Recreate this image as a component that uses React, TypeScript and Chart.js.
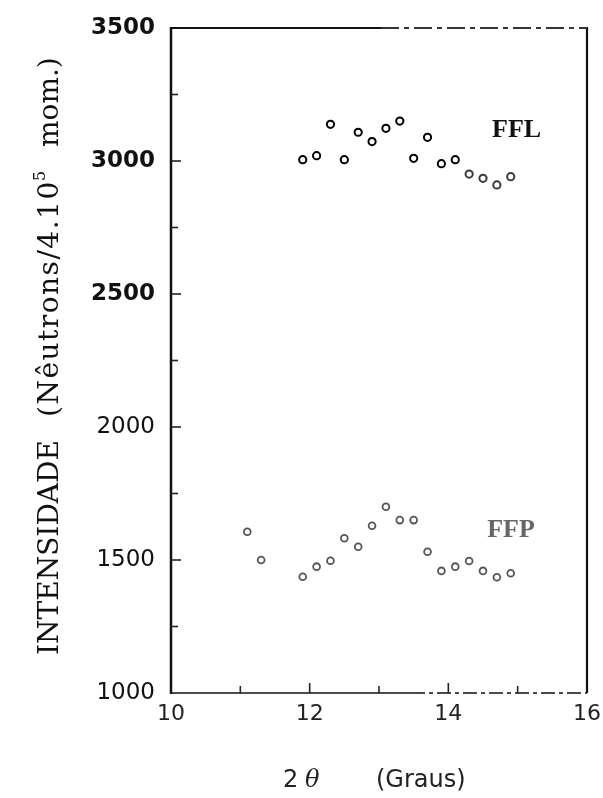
import { useEffect, useRef } from "react";
import { Chart, registerables } from "chart.js";

Chart.register(...registerables);

// 2θ positions (degrees) and counts for the FFL phase
const fflAngles = [11.9, 12.1, 12.3, 12.5, 12.7, 12.9, 13.1, 13.3, 13.5, 13.7, 13.9, 14.1, 14.3, 14.5, 14.7, 14.9];
const fflCounts = [3005, 3020, 3138, 3005, 3108, 3073, 3123, 3150, 3010, 3089, 2990, 3005, 2951, 2935, 2910, 2941];

// 2θ positions (degrees) and counts for the FFP phase
const ffpAngles = [11.1, 11.3, 11.9, 12.1, 12.3, 12.5, 12.7, 12.9, 13.1, 13.3, 13.5, 13.7, 13.9, 14.1, 14.3, 14.5, 14.7, 14.9];
const ffpCounts = [1606, 1500, 1437, 1475, 1497, 1582, 1550, 1629, 1700, 1650, 1650, 1531, 1459, 1475, 1496, 1459, 1435, 1450];

// Axis ranges and tick marks
const xRange = [10, 16];
const yRange = [1000, 3500];
const xTickStep = 2;
const yTickStep = 500;
const xTickMarks = [11, 12, 13, 14, 15];
const yTickMarks = [1250, 1500, 1750, 2000, 2250, 2500, 2750, 3000, 3250];

// Series names and where their labels sit (data coordinates)
const seriesNames = ["FFL", "FFP"];
const seriesLabelAngles = [14.63, 14.56];
const seriesLabelCounts = [3090, 1586];

const xTitleParts = ["2", "θ", "(Graus)"];
const yTitleParts = ["INTENSIDADE", "(Nêutrons/4.10", "5", "mom.)"];

const toPoints = (xs: number[], ys: number[]) => xs.map((x, i) => ({ x, y: ys[i] }));

const framePlugin = {
  id: "frameAndTitles",
  afterDraw(chart: any) {
    const { ctx, chartArea, scales } = chart;
    const { left, right, top, bottom } = chartArea;
    const xs = scales.x;
    const ys = scales.y;
    ctx.save();
    ctx.strokeStyle = "#111";
    ctx.lineCap = "butt";

    // left axis
    ctx.lineWidth = 2.5;
    ctx.beginPath();
    ctx.moveTo(left, top - 1);
    ctx.lineTo(left, bottom + 1);
    ctx.stroke();

    // right axis
    ctx.lineWidth = 2.2;
    ctx.beginPath();
    ctx.moveTo(right, top - 1);
    ctx.lineTo(right, bottom);
    ctx.stroke();

    // top border: solid near the corner, broken further right
    ctx.lineWidth = 2;
    ctx.beginPath();
    ctx.moveTo(left, top);
    ctx.lineTo(left + 210, top);
    ctx.stroke();
    ctx.strokeStyle = "#333";
    ctx.setLineDash([18, 5, 5, 5]);
    ctx.beginPath();
    ctx.moveTo(left + 210, top);
    ctx.lineTo(right, top);
    ctx.stroke();
    ctx.setLineDash([]);

    // bottom axis
    ctx.strokeStyle = "#111";
    ctx.lineWidth = 1.6;
    ctx.beginPath();
    ctx.moveTo(left, bottom);
    ctx.lineTo(left + 240, bottom);
    ctx.stroke();
    ctx.setLineDash([14, 4, 4, 4]);
    ctx.beginPath();
    ctx.moveTo(left + 240, bottom);
    ctx.lineTo(right, bottom);
    ctx.stroke();
    ctx.setLineDash([]);

    // inward tick marks
    ctx.lineWidth = 1.6;
    ctx.strokeStyle = "#222";
    xTickMarks.forEach((v) => {
      const px = xs.getPixelForValue(v);
      const len = v % xTickStep === 0 ? 10 : 7;
      ctx.beginPath();
      ctx.moveTo(px, bottom);
      ctx.lineTo(px, bottom - len);
      ctx.stroke();
    });
    yTickMarks.forEach((v) => {
      const py = ys.getPixelForValue(v);
      const len = v % yTickStep === 0 ? 10 : 7;
      ctx.beginPath();
      ctx.moveTo(left, py);
      ctx.lineTo(left + len, py);
      ctx.stroke();
    });

    // series labels
    ctx.textBaseline = "alphabetic";
    ctx.textAlign = "left";
    ctx.font = "bold 26px 'Liberation Serif'";
    seriesNames.forEach((name, i) => {
      ctx.fillStyle = i === 0 ? "#111" : "#666";
      ctx.fillText(name, xs.getPixelForValue(seriesLabelAngles[i]), ys.getPixelForValue(seriesLabelCounts[i]));
    });

    // x-axis title
    ctx.fillStyle = "#222";
    ctx.textBaseline = "middle";
    ctx.font = "24px 'DejaVu Sans'";
    ctx.fillText(xTitleParts[0], 283, 781);
    ctx.font = "italic 24px 'DejaVu Serif'";
    ctx.fillText(xTitleParts[1], 305, 781);
    ctx.font = "24px 'DejaVu Sans'";
    ctx.fillText(xTitleParts[2], 376, 781);

    // y-axis title, rotated to read bottom to top
    ctx.save();
    ctx.translate(58, 0);
    ctx.rotate(-Math.PI / 2);
    ctx.fillStyle = "#111";
    ctx.textBaseline = "alphabetic";
    ctx.font = "28px 'DejaVu Serif'";
    ctx.fillText(yTitleParts[0], -655, 0);
    (ctx as any).letterSpacing = "1.5px";
    ctx.fillText(yTitleParts[1], -417, 0);
    (ctx as any).letterSpacing = "0px";
    ctx.font = "16px 'DejaVu Serif'";
    ctx.fillText(yTitleParts[2], -181, -13);
    ctx.font = "28px 'DejaVu Serif'";
    ctx.fillText(yTitleParts[3], -147, 0);
    ctx.restore();

    ctx.restore();
  },
};

export default function App() {
  const canvasRef = useRef<HTMLCanvasElement | null>(null);

  useEffect(() => {
    if (!canvasRef.current) return;
    const chart = new Chart(canvasRef.current, {
      type: "scatter",
      data: {
        datasets: [
          {
            label: seriesNames[0],
            data: toPoints(fflAngles, fflCounts),
            pointStyle: "circle",
            pointRadius: 3.6,
            pointBorderWidth: 2,
            pointBackgroundColor: "#fff",
            pointBorderColor: (c: any) => (c.dataIndex >= 12 ? "#3a3a3a" : "#000"),
          },
          {
            label: seriesNames[1],
            data: toPoints(ffpAngles, ffpCounts),
            pointStyle: "circle",
            pointRadius: 3.4,
            pointBorderWidth: 1.8,
            pointBackgroundColor: "#fff",
            pointBorderColor: "#555",
          },
        ],
      },
      options: {
        animation: false,
        responsive: true,
        maintainAspectRatio: false,
        layout: { padding: { left: 0, right: 16, top: 28, bottom: 0 } },
        plugins: { legend: { display: false }, tooltip: { enabled: false } },
        scales: {
          x: {
            type: "linear",
            min: xRange[0],
            max: xRange[1],
            grid: { display: false, drawTicks: false },
            border: { display: false },
            ticks: {
              stepSize: xTickStep,
              padding: 8,
              color: "#222",
              font: { family: "'DejaVu Sans'", size: 22 },
              callback: (v: any) => String(v),
            },
            afterFit: (s: any) => {
              s.height = 105;
              s.paddingLeft = 0;
              s.paddingRight = 0;
            },
          },
          y: {
            type: "linear",
            min: yRange[0],
            max: yRange[1],
            grid: { display: false, drawTicks: false },
            border: { display: false },
            ticks: {
              stepSize: yTickStep,
              padding: 16,
              color: "#111",
              callback: (v: any) => String(v),
              font: (c: any) => ({
                family: "'DejaVu Sans'",
                size: 23,
                weight: c.tick && c.tick.value >= 2500 ? "bold" : "normal",
              }),
            },
            afterFit: (s: any) => {
              s.width = 171;
              s.paddingTop = 0;
              s.paddingBottom = 0;
            },
          },
        },
      },
      plugins: [framePlugin],
    });
    return () => chart.destroy();
  }, []);

  return (
    <div style={{ position: "absolute", left: 0, top: 0, width: 603, height: 798, background: "#fff" }}>
      <canvas ref={canvasRef} />
    </div>
  );
}
